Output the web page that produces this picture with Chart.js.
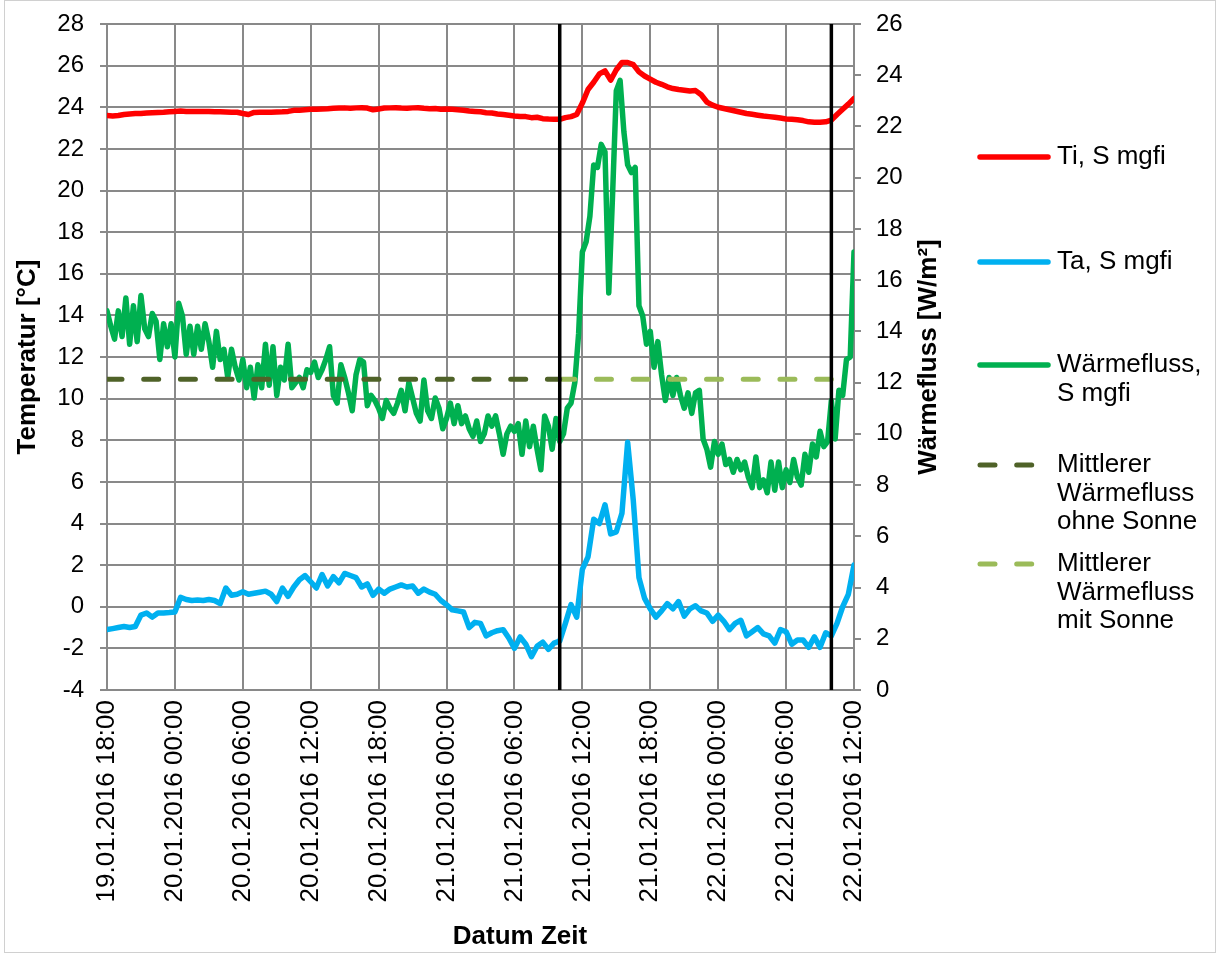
<!DOCTYPE html>
<html>
<head>
<meta charset="utf-8">
<script src="https://cdn.jsdelivr.net/npm/chart.js@4/dist/chart.umd.min.js"></script>
<style>
  html, body { margin: 0; padding: 0; background: #ffffff; }
  canvas { display: block; }
</style>
</head>
<body>
<canvas id="chart" width="1218" height="954"></canvas>
<script>
// Time axis: hours since 19.01.2016 18:00, labelled every 6 hours
const tickLabels = [
  '19.01.2016 18:00', '20.01.2016 00:00', '20.01.2016 06:00', '20.01.2016 12:00',
  '20.01.2016 18:00', '21.01.2016 00:00', '21.01.2016 06:00', '21.01.2016 12:00',
  '21.01.2016 18:00', '22.01.2016 00:00', '22.01.2016 06:00', '22.01.2016 12:00'
];
const tickStepHours = 6;
const timeRange = [0, 66];

// Ti, S mgfi – indoor temperature [°C], every 30 min
const tiStep = 0.5;
const tiValues = [
  23.6, 23.58, 23.6, 23.65, 23.68, 23.7, 23.7, 23.72, 23.74, 23.75, 23.76, 23.78,
  23.8, 23.82, 23.8, 23.8, 23.8, 23.79, 23.8, 23.78, 23.78, 23.77, 23.76, 23.76,
  23.7, 23.65, 23.75, 23.76, 23.76, 23.76, 23.77, 23.78, 23.8, 23.85, 23.86, 23.88,
  23.9, 23.9, 23.92, 23.93, 23.95, 23.96, 23.97, 23.95, 23.97, 23.98, 23.96, 23.88,
  23.92, 23.96, 23.97, 23.98, 23.96, 23.95, 23.97, 23.98, 23.95, 23.93, 23.94, 23.9,
  23.92, 23.9, 23.88, 23.86, 23.82, 23.8, 23.78, 23.74, 23.72, 23.68, 23.65, 23.62,
  23.58, 23.56, 23.55, 23.5, 23.52, 23.45, 23.43, 23.42, 23.42, 23.5, 23.55, 23.65,
  24.2, 24.85, 25.2, 25.6, 25.75, 25.3, 25.8, 26.15, 26.15, 26.05, 25.7, 25.5,
  25.35, 25.2, 25.1, 24.98, 24.9, 24.85, 24.82, 24.78, 24.8, 24.6, 24.25, 24.1,
  24.0, 23.94, 23.88, 23.82, 23.76, 23.7, 23.66, 23.62, 23.58, 23.55, 23.52, 23.48,
  23.44, 23.42, 23.4, 23.36, 23.3, 23.28, 23.28, 23.3, 23.38, 23.65, 23.9, 24.15,
  24.42
];

// Ta, S mgfi – outdoor temperature [°C], every 30 min
const taStep = 0.5;
const taValues = [
  -1.1, -1.05, -1.0, -0.95, -1.0, -0.95, -0.4, -0.3, -0.5, -0.3, -0.3, -0.28,
  -0.25, 0.45, 0.35, 0.3, 0.32, 0.3, 0.35, 0.3, 0.15, 0.9, 0.55, 0.6,
  0.72, 0.6, 0.65, 0.7, 0.75, 0.6, 0.25, 0.9, 0.5, 0.95, 1.3, 1.5,
  1.2, 0.9, 1.55, 1.0, 1.45, 1.15, 1.6, 1.5, 1.4, 0.95, 1.1, 0.55,
  0.85, 0.65, 0.85, 0.95, 1.05, 0.95, 1.0, 0.65, 0.85, 0.7, 0.6, 0.3,
  0.1, -0.15, -0.2, -0.25, -1.0, -0.75, -0.8, -1.4, -1.25, -1.15, -1.1, -1.5,
  -2.0, -1.45, -1.8, -2.4, -1.9, -1.7, -2.05, -1.75, -1.65, -0.8, 0.1, -0.5,
  1.8, 2.4, 4.2, 4.0, 4.9, 3.5, 3.6, 4.5, 7.9, 5.1, 1.4, 0.4,
  -0.1, -0.5, -0.2, 0.15, -0.1, 0.25, -0.45, -0.1, 0.05, -0.2, -0.3, -0.7,
  -0.4, -0.7, -1.1, -0.8, -0.65, -1.4, -1.2, -1.0, -1.3, -1.4, -1.75, -1.1,
  -1.2, -1.8, -1.6, -1.6, -1.95, -1.45, -1.95, -1.25, -1.4, -0.8, 0.0, 0.6,
  2.0
];

// Wärmefluss, S mgfi – heat flux [W/m²], every 20 min
const fluxStep = 1 / 3;
const fluxValues = [
  14.8, 14.2, 13.7, 14.8, 13.8, 15.3, 13.5, 15.0, 13.6, 15.4, 14.1, 13.8,
  14.7, 14.4, 12.9, 14.3, 13.4, 14.3, 13.0, 15.1, 14.6, 13.1, 14.2, 13.1,
  14.2, 13.3, 14.3, 13.6, 12.6, 14.0, 12.9, 13.3, 12.2, 13.3, 12.6, 12.1,
  12.9, 11.8, 12.6, 11.4, 12.7, 11.8, 13.5, 11.9, 13.4, 11.5, 12.6, 12.1,
  13.5, 11.8, 12.0, 12.2, 11.8, 12.5, 12.4, 12.8, 12.2, 12.5, 12.9, 13.4,
  11.5, 11.2, 12.7, 12.2, 11.6, 10.9, 12.3, 12.9, 12.8, 11.1, 11.5, 11.3,
  11.0, 10.6, 11.3, 11.0, 10.8, 11.2, 11.7, 10.9, 12.0, 11.4, 10.8, 10.5,
  12.1, 10.9, 10.6, 11.4, 11.0, 10.2, 10.6, 11.2, 10.4, 11.1, 10.4, 10.7,
  10.2, 9.9, 10.5, 9.7, 10.0, 10.7, 10.3, 10.7, 10.0, 9.2, 10.0, 10.3,
  10.1, 10.4, 9.2, 10.5, 9.5, 10.3, 9.4, 8.6, 10.7, 10.3, 9.4, 10.6,
  9.7, 10.0, 11.0, 11.2, 12.0, 13.9, 17.1, 17.5, 18.5, 20.5, 20.4, 21.3,
  21.0, 15.5, 19.3, 23.4, 23.8, 21.8, 20.5, 20.2, 20.4, 15.0, 14.6, 13.5,
  14.0, 12.6, 13.6, 12.3, 11.3, 12.2, 11.5, 12.2, 11.5, 11.0, 11.6, 10.8,
  11.6, 11.7, 9.8, 9.4, 8.7, 9.7, 9.2, 9.6, 8.8, 9.0, 8.5, 9.0,
  8.6, 8.9, 8.3, 7.9, 9.1, 7.9, 8.2, 7.7, 8.9, 7.8, 8.9, 7.9,
  8.6, 8.1, 9.0, 8.3, 8.0, 9.2, 8.5, 9.6, 9.1, 10.1, 9.5, 9.7,
  11.3, 9.8, 11.7, 11.5, 12.9, 13.0, 17.1
];

// Mean heat flux without / with sun [W/m²] and the hours they cover
const meanFluxNoSun = 12.13;
const meanFluxSun = 12.13;
const noSunSpan = [0, 40];
const sunSpan = [40, 64];

// Vertical markers bounding the sunny period (hours)
const markerHours = [40, 64];

// Axis ranges
const tempAxis = [-4, 28];
const fluxAxis = [0, 26];

// Legend texts, one array of lines per entry
const legendLines = [
  ['Ti, S mgfi'],
  ['Ta, S mgfi'],
  ['Wärmefluss,', 'S mgfi'],
  ['Mittlerer', 'Wärmefluss', 'ohne Sonne'],
  ['Mittlerer', 'Wärmefluss', 'mit Sonne']
];

const FONT = "'Liberation Sans', Arial, Helvetica, sans-serif";
const GRID = '#898989';
const SERIES_WIDTH = 5.5;

const toPoints = (values, step) => values.map((v, i) => ({ x: i * step, y: v }));
const span = (range, value) => [{ x: range[0], y: value }, { x: range[1], y: value }];

const lineBase = { pointRadius: 0, pointHoverRadius: 0, tension: 0, borderJoinStyle: 'round', borderCapStyle: 'round', fill: false };

const datasets = [
  Object.assign({}, lineBase, { label: 'Ti, S mgfi', data: toPoints(tiValues, tiStep), yAxisID: 'yL', borderColor: '#ff0000', borderWidth: SERIES_WIDTH, order: 2 }),
  Object.assign({}, lineBase, { label: 'Ta, S mgfi', data: toPoints(taValues, taStep), yAxisID: 'yL', borderColor: '#00b0f0', borderWidth: SERIES_WIDTH, order: 3 }),
  Object.assign({}, lineBase, { label: 'Wärmefluss, S mgfi', data: toPoints(fluxValues, fluxStep), yAxisID: 'yR', borderColor: '#00b050', borderWidth: SERIES_WIDTH, order: 4 }),
  Object.assign({}, lineBase, { label: 'Mittlerer Wärmefluss ohne Sonne', data: span(noSunSpan, meanFluxNoSun), yAxisID: 'yR', borderColor: '#4f6228', borderWidth: 5, borderDash: [15, 21.7], order: 1 }),
  Object.assign({}, lineBase, { label: 'Mittlerer Wärmefluss mit Sonne', data: span(sunSpan, meanFluxSun), yAxisID: 'yR', borderColor: '#9bbb59', borderWidth: 5, borderDash: [15, 21.7], order: 1 })
].concat(markerHours.map(h => Object.assign({}, lineBase, {
  label: '', data: [{ x: h, y: tempAxis[0] }, { x: h, y: tempAxis[1] }], yAxisID: 'yL',
  borderColor: '#000000', borderWidth: 3.5, borderCapStyle: 'butt', order: 0
})));

// Frame, legend and the remaining axis titles
const decor = {
  id: 'decor',
  afterDraw(chart) {
    const ctx = chart.ctx;
    ctx.save();
    ctx.strokeStyle = '#d0d0d0';
    ctx.lineWidth = 1;
    ctx.strokeRect(4.5, 0.5, 1211, 952);

    const rowY = [157, 262, 365, 465, 564];
    const rowGap = 28.6;
    ctx.font = '26px ' + FONT;
    ctx.textAlign = 'left';
    ctx.textBaseline = 'middle';
    legendLines.forEach((lines, k) => {
      const ds = chart.data.datasets[k];
      const y = rowY[k];
      ctx.save();
      ctx.strokeStyle = ds.borderColor;
      ctx.lineWidth = ds.borderWidth;
      ctx.lineCap = 'round';
      ctx.setLineDash(ds.borderDash || []);
      ctx.beginPath();
      ctx.moveTo(980, y);
      ctx.lineTo(1048, y);
      ctx.stroke();
      ctx.restore();
      ctx.fillStyle = '#000000';
      lines.forEach((t, j) => ctx.fillText(t, 1057, y + j * rowGap));
    });

    ctx.font = 'bold 26px ' + FONT;
    ctx.fillStyle = '#000000';
    ctx.textAlign = 'center';
    ctx.fillText('Datum Zeit', 520, 937);

    ctx.translate(929, (chart.chartArea.top + chart.chartArea.bottom) / 2);
    ctx.rotate(-Math.PI / 2);
    ctx.fillText('Wärmefluss [W/m²]', 0, 0);
    ctx.restore();
  }
};

// Fixed axis sizes; the tick labels' own overhang must not shrink the plot
const fixWidth = w => s => { s.width = w; s.paddingTop = 0; s.paddingBottom = 0; };

Chart.defaults.font.family = FONT;
Chart.defaults.color = '#000000';

new Chart(document.getElementById('chart'), {
  type: 'line',
  data: { datasets },
  plugins: [decor],
  options: {
    responsive: false,
    animation: false,
    devicePixelRatio: 1,
    layout: { padding: { left: 4, right: 264, top: 24, bottom: 6 } },
    plugins: { legend: { display: false }, tooltip: { enabled: false } },
    scales: {
      x: {
        type: 'linear',
        min: timeRange[0],
        max: timeRange[1],
        grid: { color: GRID, lineWidth: 2, drawTicks: false },
        border: { color: GRID, width: 2 },
        ticks: {
          stepSize: tickStepHours,
          autoSkip: false,
          minRotation: 90,
          maxRotation: 90,
          padding: 10,
          font: { size: 26 },
          callback: v => tickLabels[Math.round(v / tickStepHours)]
        },
        afterFit: s => { s.height = 258; }
      },
      yL: {
        type: 'linear',
        position: 'left',
        min: tempAxis[0],
        max: tempAxis[1],
        grid: { color: GRID, lineWidth: 2, tickLength: 7 },
        border: { color: GRID, width: 2 },
        ticks: { stepSize: 2, padding: 16, font: { size: 24 } },
        title: { display: true, text: 'Temperatur [°C]', font: { size: 26, weight: 'bold' }, padding: { top: 8, bottom: 0 } },
        afterFit: fixWidth(103)
      },
      yR: {
        type: 'linear',
        position: 'right',
        min: fluxAxis[0],
        max: fluxAxis[1],
        grid: { drawOnChartArea: false, color: GRID, lineWidth: 2, tickLength: 7 },
        border: { color: GRID, width: 2 },
        ticks: { stepSize: 2, padding: 15, font: { size: 24 } },
        afterFit: fixWidth(100)
      }
    }
  }
});
</script>
</body>
</html>
